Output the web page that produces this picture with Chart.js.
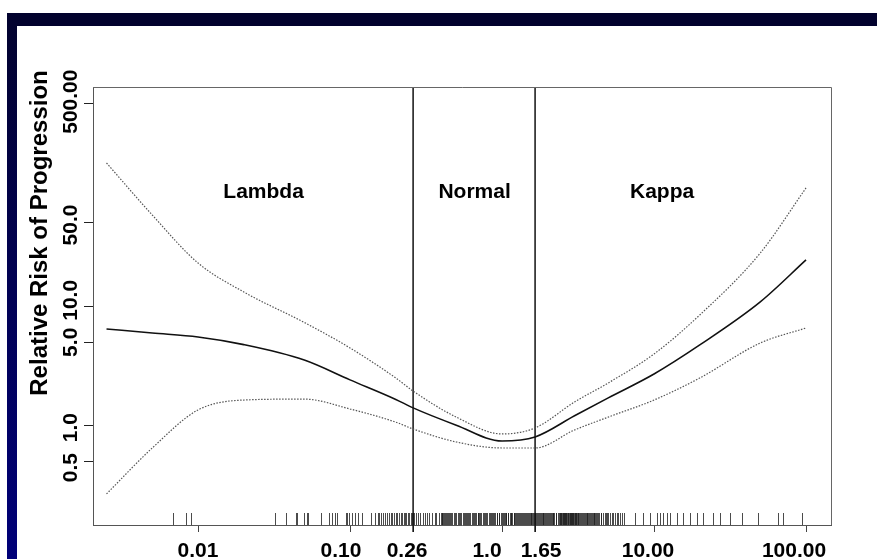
<!DOCTYPE html>
<html>
<head>
<meta charset="utf-8">
<title>Relative Risk of Progression</title>
<script src="https://cdn.jsdelivr.net/npm/chart.js@4.4.0/dist/chart.umd.min.js"></script>
<style>
  html, body { margin: 0; padding: 0; background: #fff; }
  #stage { position: relative; width: 877px; height: 559px; overflow: hidden; }
  .bandTop { position: absolute; left: 7px; top: 13px; width: 870px; height: 13px; background: #02022e; }
  .bandLeft { position: absolute; left: 7px; top: 13px; width: 10px; height: 546px;
              background: linear-gradient(#02022e, #000078); }
  #riskChart { position: absolute; left: 0; top: 0; }
</style>
</head>
<body>
<div id="stage">
  <div class="bandTop"></div>
  <div class="bandLeft"></div>
  <canvas id="riskChart" width="877" height="559"></canvas>
</div>
<script>
// --- datos ---
const ratioX = [0.0025, 0.005, 0.01, 0.02, 0.05, 0.1, 0.2, 0.26, 0.5, 1.0, 1.65, 3, 5, 10, 20, 50, 100];
const riskMid = [6.47, 5.98, 5.54, 4.78, 3.55, 2.42, 1.66, 1.41, 1.01, 0.744, 0.804, 1.21, 1.71, 2.71, 4.75, 10.9, 24.5];
const riskUpper = [159.2, 58.3, 23.1, 13.2, 7.33, 4.48, 2.51, 1.95, 1.18, 0.852, 0.957, 1.58, 2.28, 3.99, 8.47, 28.0, 98.3];
const riskLower = [0.268, 0.650, 1.354, 1.64, 1.67, 1.38, 1.07, 0.938, 0.730, 0.650, 0.650, 0.92, 1.18, 1.64, 2.51, 4.93, 6.59];

const xTicks = [0.01, 0.1, 0.26, 1.0, 1.65, 10, 100];
const xTickLabels = ["0.01", "0.10", "0.26", "1.0", "1.65", "10.00", "100.00"];
const yTicks = [0.5, 1, 5, 10, 50, 500];
const yTickLabels = ["0.5", "1.0", "5.0", "10.0", "50.0", "500.00"];

const cutoffs = [0.26, 1.65];
const zoneNames = ["Lambda", "Normal", "Kappa"];
const zoneX = [0.027, 0.66, 11.3];
const zoneY = 90;

// marcas de la alfombra (rug) sobre el eje x
const rugX = [
  0.0068, 0.0083, 0.009, 0.032, 0.038, 0.044, 0.045, 0.050, 0.052, 0.053, 0.064, 0.073, 0.076, 0.080, 0.082, 0.096,
  0.094, 0.0985, 0.103, 0.108, 0.113, 0.120, 0.1375, 0.146, 0.153,
  0.155, 0.16, 0.165, 0.17, 0.175, 0.18, 0.185, 0.19, 0.195, 0.2, 0.205, 0.21, 0.215, 0.22, 0.225, 0.23, 0.235, 0.24, 0.245, 0.25, 0.255, 0.26,
  0.265, 0.27, 0.28, 0.29, 0.3, 0.31, 0.32, 0.33, 0.345, 0.36, 0.37, 0.385, 0.395,
  0.40, 0.405, 0.41, 0.415, 0.42, 0.43, 0.435, 0.44, 0.45, 0.455, 0.46, 0.47, 0.48, 0.49, 0.5, 0.51, 0.52, 0.53, 0.54, 0.55,
  0.56, 0.57, 0.58, 0.59, 0.6, 0.61, 0.62, 0.63, 0.64, 0.65, 0.66, 0.67, 0.69, 0.7, 0.71, 0.72, 0.73, 0.75, 0.76, 0.77,
  0.79, 0.8, 0.82, 0.83, 0.85, 0.86, 0.87, 0.89, 0.9, 0.92, 0.93, 0.95, 0.96, 0.98,
  1.0, 1.01, 1.03, 1.04, 1.06, 1.07, 1.09, 1.1, 1.12, 1.14, 1.15, 1.17, 1.19, 1.2, 1.22, 1.24, 1.26, 1.28, 1.3, 1.32,
  1.34, 1.36, 1.38, 1.4, 1.42, 1.44, 1.46, 1.48, 1.5, 1.52,
  1.54, 1.56, 1.58, 1.6, 1.62, 1.64, 1.66, 1.68, 1.7, 1.72, 1.75, 1.77, 1.8, 1.82, 1.85, 1.87, 1.9, 1.92, 1.95, 1.98,
  2.0, 2.03, 2.06, 2.09, 2.12, 2.15, 2.18, 2.21, 2.25, 2.28, 2.32, 2.36, 2.4,
  2.42, 2.44, 2.46, 2.48, 2.5, 2.52, 2.54, 2.56, 2.58, 2.6, 2.63, 2.65, 2.68, 2.7, 2.73, 2.75, 2.78, 2.8, 2.83, 2.85, 2.88,
  2.9, 2.93, 2.95, 2.98, 3.0, 3.03, 3.06, 3.09, 3.12, 3.15, 3.18, 3.22, 3.25, 3.3, 3.35, 3.4, 3.45, 3.5, 3.55, 3.6, 3.65, 3.7, 3.75, 3.8,
  3.85, 3.9, 3.95, 4.0, 4.05, 4.1, 4.15, 4.2, 4.3, 4.35, 4.45, 4.5, 4.6, 4.75, 4.8, 4.9, 5.0, 5.1, 5.3, 5.4, 5.5, 5.7, 5.8, 6.0, 6.2, 6.3,
  7.5, 8.47, 9.41, 10.47, 10.9, 11.47, 12.2, 12.7, 14.2, 15.5, 17.3, 19.2, 21.0, 24.4, 27.2, 31.6, 37.9, 48.3, 65.4, 70.6, 94.2
];

// pequenos desplazamientos de las etiquetas (px), como en la figura escaneada
const xLabelNudge = [0, -9, -6, -15, 6, -6, -12];
const yLabelNudge = [6, 2, 0, -6, 2, -2];

const FONT = "'Liberation Sans', Arial, Helvetica, sans-serif";
Chart.defaults.font.family = FONT;
Chart.defaults.color = "#000";

const toPoints = (ys) => ratioX.map((x, i) => ({ x: x, y: ys[i] }));

// marco, cortes, rug, etiquetas y textos
const extrasPlugin = {
  id: "extras",
  beforeDatasetsDraw(chart) {
    const { ctx, chartArea: a, scales: { x, y } } = chart;
    ctx.save();
    // rug
    ctx.strokeStyle = "rgba(30,30,30,0.8)";
    ctx.lineWidth = 1;
    rugX.forEach(v => {
      const px = Math.round(x.getPixelForValue(v)) + 0.5;
      ctx.beginPath();
      ctx.moveTo(px, a.bottom - 12);
      ctx.lineTo(px, a.bottom);
      ctx.stroke();
    });
    // lineas de corte
    ctx.strokeStyle = "#111";
    ctx.lineWidth = 1.5;
    cutoffs.forEach(v => {
      const px = x.getPixelForValue(v);
      ctx.beginPath();
      ctx.moveTo(px, a.top);
      ctx.lineTo(px, a.bottom + 7);
      ctx.stroke();
    });
    // marco superior y derecho
    ctx.strokeStyle = "#666";
    ctx.lineWidth = 1;
    ctx.beginPath();
    ctx.moveTo(a.left, a.top + 0.5);
    ctx.lineTo(a.right + 0.5, a.top + 0.5);
    ctx.lineTo(a.right + 0.5, a.bottom);
    ctx.stroke();

    ctx.fillStyle = "#000";
    ctx.textAlign = "center";
    ctx.textBaseline = "middle";
    ctx.font = "bold 21px " + FONT;
    // nombres de zona
    zoneNames.forEach((t, i) => {
      ctx.fillText(t, x.getPixelForValue(zoneX[i]), y.getPixelForValue(zoneY));
    });
    // etiquetas del eje x
    xTicks.forEach((v, i) => {
      ctx.fillText(xTickLabels[i], x.getPixelForValue(v) + xLabelNudge[i], a.bottom + 26);
    });
    // etiquetas del eje y (giradas)
    yTicks.forEach((v, i) => {
      ctx.save();
      ctx.translate(a.left - 22, y.getPixelForValue(v) + yLabelNudge[i]);
      ctx.rotate(-Math.PI / 2);
      ctx.fillText(yTickLabels[i], 0, 0);
      ctx.restore();
    });
    // titulo del eje y
    ctx.translate(40, 233);
    ctx.rotate(-Math.PI / 2);
    ctx.font = "bold 24px " + FONT;
    ctx.fillText("Relative Risk of Progression", 0, 0);
    ctx.restore();
  }
};

new Chart(document.getElementById("riskChart").getContext("2d"), {
  type: "line",
  data: {
    datasets: [
      {
        label: "Upper",
        data: toPoints(riskUpper),
        borderColor: "#555",
        borderWidth: 1.2,
        borderDash: [1.5, 1.5],
        pointRadius: 0,
        cubicInterpolationMode: "monotone"
      },
      {
        label: "Estimate",
        data: toPoints(riskMid),
        borderColor: "#111",
        borderWidth: 1.6,
        pointRadius: 0,
        cubicInterpolationMode: "monotone"
      },
      {
        label: "Lower",
        data: toPoints(riskLower),
        borderColor: "#555",
        borderWidth: 1.2,
        borderDash: [1.5, 1.5],
        pointRadius: 0,
        cubicInterpolationMode: "monotone"
      }
    ]
  },
  options: {
    responsive: false,
    animation: false,
    layout: { padding: { left: 0, top: 87, right: 46, bottom: 0 } },
    plugins: { legend: { display: false }, tooltip: { enabled: false } },
    scales: {
      x: {
        type: "logarithmic",
        min: 0.002037,
        max: 146,
        afterBuildTicks: (s) => { s.ticks = xTicks.map(v => ({ value: v })); },
        afterFit: (s) => { s.height = 34; },
        grid: { drawOnChartArea: false, tickLength: 7, color: "#444" },
        border: { color: "#555", width: 1 },
        ticks: { display: false }
      },
      y: {
        type: "logarithmic",
        min: 0.147,
        max: 690,
        afterBuildTicks: (s) => { s.ticks = yTicks.map(v => ({ value: v })); },
        afterFit: (s) => { s.width = 93; },
        grid: { drawOnChartArea: false, tickLength: 9, color: "#222" },
        border: { color: "#555", width: 1 },
        ticks: { display: false }
      }
    }
  },
  plugins: [extrasPlugin]
});
</script>
</body>
</html>
